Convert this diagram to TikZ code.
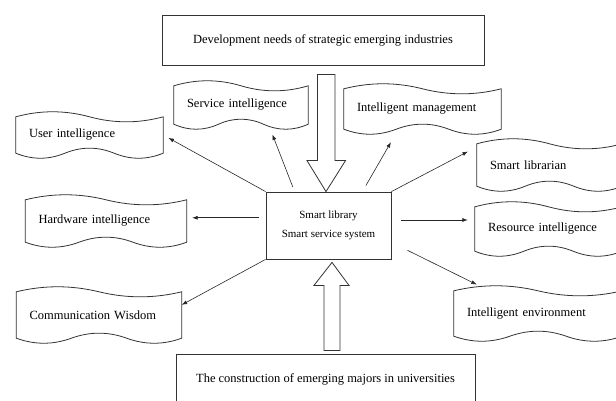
\documentclass[tikz,border=0pt]{standalone}
\usepackage{fontspec}
\setmainfont{Liberation Serif}
\usepackage{tikz}
\usetikzlibrary{shapes, arrows.meta, positioning, calc}

% wavy outline round a named node
\newcommand{\waveframe}[1]{%
  \draw[waveline] (#1.north west)
    .. controls ($(#1.north west)!0.167!(#1.north east)+(0,6.7)$) and ($(#1.north west)!0.333!(#1.north east)+(0,6.7)$) .. ($(#1.north west)!0.5!(#1.north east)$)
    .. controls ($(#1.north west)!0.667!(#1.north east)+(0,-6.7)$) and ($(#1.north west)!0.833!(#1.north east)+(0,-6.7)$) .. (#1.north east)
    -- (#1.south east)
    .. controls ($(#1.south west)!0.889!(#1.south east)+(0,-6.7)$) and ($(#1.south west)!0.778!(#1.south east)+(0,-6.7)$) .. ($(#1.south west)!0.667!(#1.south east)$)
    .. controls ($(#1.south west)!0.556!(#1.south east)+(0,6.7)$) and ($(#1.south west)!0.444!(#1.south east)+(0,6.7)$) .. ($(#1.south west)!0.333!(#1.south east)$)
    .. controls ($(#1.south west)!0.222!(#1.south east)+(0,-6.7)$) and ($(#1.south west)!0.111!(#1.south east)+(0,-6.7)$) .. (#1.south west)
    -- cycle;}

\begin{document}
\begin{tikzpicture}[x=1pt, y=1pt,
  wavebox/.style={rectangle, align=left, inner xsep=13pt, inner ysep=0pt, font=\fontsize{12.5}{14}\selectfont},
  waveline/.style={draw=black!80, line width=0.8pt},
  framebox/.style={draw=black!80, line width=0.8pt, font=\fontsize{12.5}{14}\selectfont},
  sysbox/.style={draw=black!80, line width=0.8pt, minimum width=125pt, minimum height=67pt, align=center, font=\fontsize{11}{13}\selectfont},
  link/.style={-{Latex[length=5.5pt,width=4pt]}, line width=0.6pt, black!85},
  bigarrow/.style={draw=black!80, line width=0.8pt, fill=white}
]
  \useasboundingbox (0,0) rectangle (616,-401);

  \node[framebox, minimum width=322pt, minimum height=50pt] (needs) at (323,-40) {Development needs of strategic emerging industries};
  \node[sysbox] (sys) at (328.5,-225.5) {Smart library\\[6pt] Smart service system};
  \node[framebox, minimum width=299pt, minimum height=50pt, anchor=north] (majors) at (325.5,-354) {The construction of emerging majors in universities};

  % Wave boxes round the system
  \node[wavebox, text width=121pt, minimum height=36pt] (user) at (89.5,-135) {User intelligence};
  \node[wavebox, text width=108pt, minimum height=38pt] (serv) at (241,-105) {Service intelligence};
  \node[wavebox, text width=131pt, minimum height=40pt] (mgmt) at (422.5,-109) {Intelligent management};
  \node[wavebox, text width=119pt, minimum height=42pt] (lib) at (549.5,-165) {Smart librarian};
  \node[wavebox, text width=135pt, minimum height=42pt] (hw) at (106,-221) {Hardware intelligence};
  \node[wavebox, text width=121pt, minimum height=44pt] (res) at (548.5,-229) {Resource intelligence};
  \node[wavebox, text width=139pt, minimum height=46pt] (comm) at (99,-315) {Communication Wisdom};
  \node[wavebox, text width=142pt, minimum height=45pt] (env) at (538,-313.5) {Intelligent environment};
  \foreach \n in {user, serv, mgmt, lib, hw, res, comm, env}
    \waveframe{\n};

  % Block arrows
  \draw[bigarrow] (sys.north) ++(-2.5,0) -- ++(-19,31) -- ++(10.5,0) -- ++(0,86) -- ++(17.5,0) -- ++(0,-86) -- ++(10.5,0) -- cycle;
  \draw[bigarrow] (sys.south) ++(3.5,-3) -- ++(-18,-23) -- ++(10,0) -- ++(0,-65) -- ++(16,0) -- ++(0,65) -- ++(9,0) -- cycle;

  % Links
  \draw[link, shorten >=6pt] (sys.north west) -- (user.east);
  \draw[link, shorten <=5pt, shorten >=11pt] (sys.135) -- (serv.325);
  \draw[link, shorten <=7pt, shorten >=15pt] (sys.45) -- (mgmt.220);
  \draw[link, shorten >=10pt] (sys.north east) -- (lib.166);
  \draw[link, shorten <=7pt, shorten >=5.5pt] (sys.173) -- (sys.173 -| hw.east);
  \draw[link, shorten <=10pt, shorten >=7pt] (sys.5) -- (sys.5 -| res.west);
  \draw[link, shorten <=18pt, shorten >=14pt] (sys.345) -- (env.155);
  \draw[link] (sys.south west) -- (comm.7);
\end{tikzpicture}
\end{document}
